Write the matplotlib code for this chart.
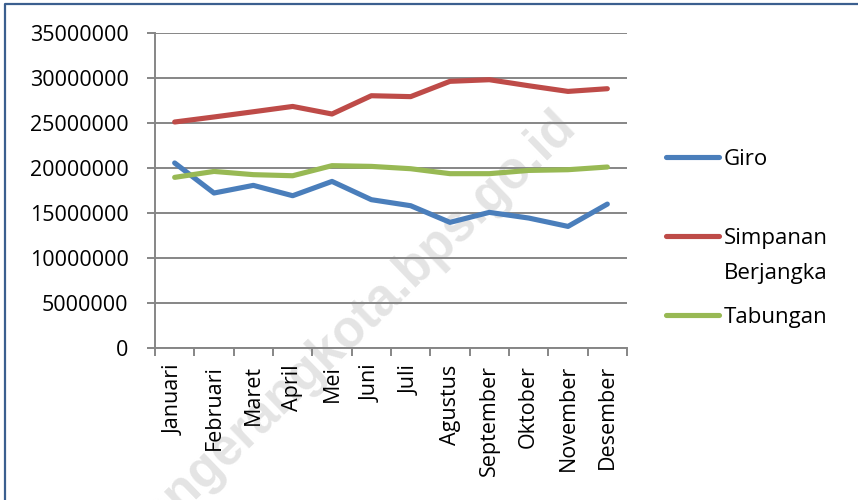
import matplotlib
matplotlib.use("Agg")
import matplotlib.pyplot as plt
from matplotlib.lines import Line2D
from matplotlib.ticker import FuncFormatter, MultipleLocator, FixedLocator

# Data
months = ["Januari", "Februari", "Maret", "April", "Mei", "Juni", "Juli",
          "Agustus", "September", "Oktober", "November", "Desember"]
giro = [20560000, 17220000, 18070000, 16920000, 18510000, 16480000,
        15810000, 13960000, 15070000, 14440000, 13510000, 15990000]
simpanan = [25110000, 25670000, 26250000, 26840000, 26000000, 28030000,
            27930000, 29630000, 29810000, 29140000, 28510000, 28810000]
tabungan = [18960000, 19620000, 19260000, 19140000, 20260000, 20180000,
            19920000, 19370000, 19370000, 19730000, 19810000, 20110000]

plt.rcParams['font.family'] = ['Open Sans', 'DejaVu Sans']
fs = 15.5

fig = plt.figure(figsize=(8.58, 5.0), dpi=100)
ax = fig.add_axes([155 / 858, 1 - 348 / 500, (627 - 155) / 858, (348 - 33) / 500])
ax.set_facecolor("none")

# Watermark sits behind everything
fig.text(354 / 858, 1 - 328 / 500, "tangerangkota.bps.go.id", family="Liberation Sans",
         fontsize=37, fontweight="bold", color="#e4e4e4", rotation=44,
         rotation_mode="anchor", ha="center", va="center", zorder=-1)

x = list(range(len(months)))
lw = 3.7
l1, = ax.plot(x, giro, color="#4a7ebb", linewidth=lw, solid_capstyle="round", zorder=3)
l2, = ax.plot(x, simpanan, color="#be4b48", linewidth=lw, solid_capstyle="round", zorder=3)
l3, = ax.plot(x, tabungan, color="#98b954", linewidth=lw, solid_capstyle="round", zorder=3)

ax.set_xlim(-0.5, len(months) - 0.5)
ax.set_ylim(0, 35000000)
ax.yaxis.set_major_locator(MultipleLocator(5000000))
ax.yaxis.set_major_formatter(FuncFormatter(lambda v, p: f"{int(v)}"))
ax.set_xticks(x)
ax.set_xticklabels(months, rotation=90, va="top", ha="center")
ax.xaxis.set_minor_locator(FixedLocator([i - 0.5 for i in range(len(months) + 1)]))

grid_col = "#868686"
ax.grid(axis="y", color=grid_col, linewidth=1.4, zorder=0)
ax.set_axisbelow(True)
for s in ["top", "right"]:
    ax.spines[s].set_visible(False)
for s in ["left", "bottom"]:
    ax.spines[s].set_color(grid_col)
    ax.spines[s].set_linewidth(1.4)

ax.tick_params(axis="y", length=6, width=1.4, color=grid_col, pad=13, labelsize=fs)
ax.tick_params(axis="x", which="major", length=0, pad=12, labelsize=fs)
ax.tick_params(axis="x", which="minor", length=6, width=1.4, color=grid_col)

# Legend (second entry wraps onto two lines like the original)
lfs = 16
leg = ax.legend([l1, l2, l3], ["Giro", "Simpanan", "Tabungan"], loc="upper left",
                bbox_to_anchor=(655 / 858, 1 - 138 / 500), bbox_transform=fig.transFigure,
                frameon=False, fontsize=lfs, handlelength=2.4, handletextpad=0.2,
                labelspacing=2.6, borderpad=0)
leg.set_zorder(5)
ax.annotate("Berjangka", xy=(0, 0.5), xycoords=leg.get_texts()[1],
            xytext=(0, -25.5), textcoords="offset points", ha="left", va="center",
            fontsize=lfs, zorder=6, annotation_clip=False)

# Frame border (top and left visible)
border = "#3b5f8f"
fig.add_artist(Line2D([5 / 858, 5 / 858, 1], [0, 1 - 4 / 500, 1 - 4 / 500],
                      transform=fig.transFigure, color=border, linewidth=1.6))

fig.savefig("out.png", dpi=100)
